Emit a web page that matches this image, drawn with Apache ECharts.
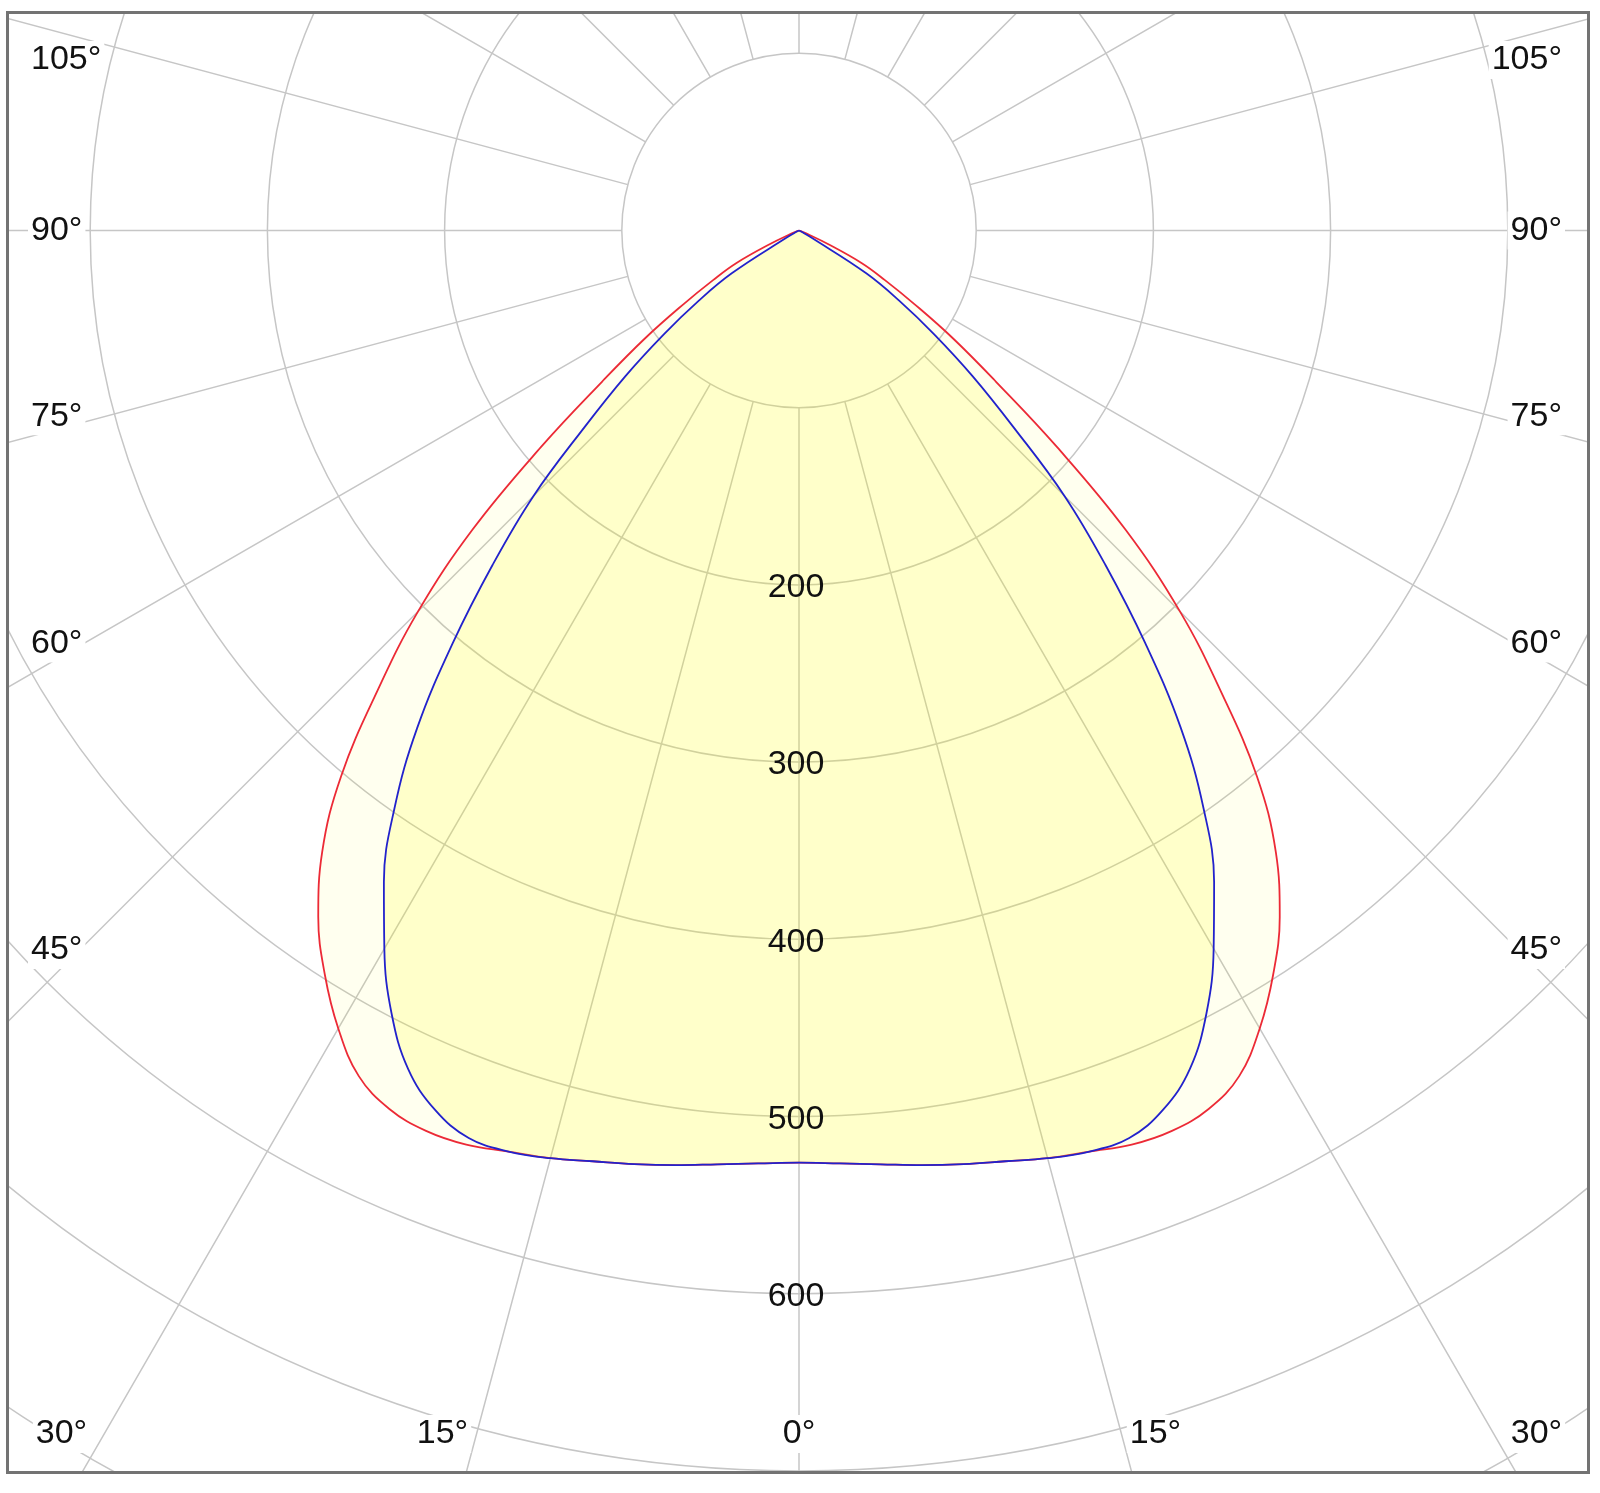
<!DOCTYPE html>
<html>
<head>
<meta charset="utf-8">
<script src="https://cdn.jsdelivr.net/npm/echarts@6/dist/echarts.min.js"></script>
<style>
html,body{margin:0;padding:0;background:#fff;width:1600px;height:1493px;overflow:hidden}
#chart{position:absolute;left:6px;top:11px;width:1584px;height:1463px}
</style>
</head>
<body>
<div id="chart"></div>
<script>
// ---- data (angle in degrees from nadir, luminous intensity) ----
const angles = [
  -90,-87.5,-85,-82.5,-80,-77.5,-75,-72.5,-70,-67.5,-65,-62.5,-60,-57.5,-55,-52.5,-50,-47.5,
  -45,-42.5,-40,-37.5,-35,-32.5,-30,-27.5,-25,-22.5,-20,-17.5,-15,-12.5,-10,-7.5,-5,-2.5,
  0,
  2.5,5,7.5,10,12.5,15,17.5,20,22.5,25,27.5,30,32.5,35,37.5,40,42.5,45,
  47.5,50,52.5,55,57.5,60,62.5,65,67.5,70,72.5,75,77.5,80,82.5,85,87.5,90];
const redValues = [
  0,0,0,0,0,0,0,0,1,5,18,40,56,77,106,140,190,250,
  304,352,402,442,473,498,520,538,547,550,549,545,542,538,535,532,529,527,
  526,
  527,529,532,535,538,542,545,549,550,547,538,520,498,473,442,402,352,304,
  250,190,140,106,77,56,40,18,5,1,0,0,0,0,0,0,0,0];
const blueValues = [
  0,0,0,0,0,0,0,0,0,0,0,1,8,45,69,96,128,164,
  212,256,304,354,398,436,468,498,522,537,545,545,542,538,535,532,529,527,
  526,
  527,529,532,535,538,542,545,545,537,522,498,468,436,398,354,304,256,212,
  164,128,96,69,45,8,1,0,0,0,0,0,0,0,0,0,0,0];
const radiusLabels = [200,300,400,500,600];
const angleLabelValues = [105,90,75,60,45,30,15,0];

// ---- layout ----
const CX = 793, CY = 219.5, K = 1.772, RMAX = 850;
const FONT = '"Liberation Sans", Arial, sans-serif';
const gridColor = '#c6c6c6';

const chart = echarts.init(document.getElementById('chart'));

function angleLabelGraphics() {
  const out = [];
  const leftCX = 48, rightCX = 1538, leftTX = 22, rightTX = 1559, bottomY = 1423, topY = 49;
  const sideShift = 1.0, bottomShift = 1.5;
  [-1, 1].forEach(function (s) {
    angleLabelValues.forEach(function (th) {
      if (s === 1 && th === 0) return;
      const t0 = th * Math.PI / 180;
      const sx = Math.abs(Math.sin(t0)) < 1e-9 ? Infinity : (s < 0 ? (CX - leftCX) : (rightCX - CX)) / Math.abs(Math.sin(t0));
      const sy = Math.cos(t0) > 1e-9 ? (bottomY - CY) / Math.cos(t0) : Infinity;
      const onBottom = sy < sx;
      const shift = (th % 90 === 0) ? 0 : (onBottom ? bottomShift : sideShift);
      const t = (th + shift) * Math.PI / 180;
      const dx = s * Math.sin(t), dy = Math.cos(t);
      let x, y, align;
      if (onBottom) {
        x = CX + dx * ((bottomY - CY) / dy); y = bottomY; align = 'center';
      } else {
        const tx = (s < 0 ? (CX - leftCX) : (rightCX - CX)) / Math.abs(dx);
        y = Math.max(topY, CY + dy * tx); x = s < 0 ? leftTX : rightTX; align = s < 0 ? 'left' : 'right';
      }
      out.push({
        type: 'text', z: 100, silent: true,
        style: {
          text: th + '°', x: x, y: y, align: align, verticalAlign: 'middle',
          font: '34px ' + FONT, fill: '#111111',
          backgroundColor: '#ffffff', padding: [2, 3]
        }
      });
    });
  });
  out.push({
    type: 'rect', z: 110, silent: true,
    shape: { x: 1.5, y: 1.5, width: 1581, height: 1460 },
    style: { fill: 'none', stroke: '#737373', lineWidth: 3 }
  });
  return out;
}

const option = {
  animation: false,
  backgroundColor: '#ffffff',
  polar: [
    { center: [CX, CY], radius: [100 * K, RMAX * K] },
    { center: [CX, CY], radius: [0, RMAX * K] }
  ],
  radiusAxis: [
    { polarIndex: 0, type: 'value', min: 100, max: RMAX, interval: 100,
      axisLine: { show: false }, axisTick: { show: false }, axisLabel: { show: false },
      splitLine: { show: true, lineStyle: { color: gridColor, width: 1.5 } } },
    { polarIndex: 1, type: 'value', min: 0, max: RMAX,
      axisLine: { show: false }, axisTick: { show: false }, axisLabel: { show: false },
      splitLine: { show: false } }
  ],
  angleAxis: [
    { polarIndex: 0, type: 'value', min: 0, max: 360, interval: 15, startAngle: 270, clockwise: true,
      axisLine: { show: false }, axisTick: { show: false }, axisLabel: { show: false },
      splitLine: { show: true, lineStyle: { color: gridColor, width: 1.5 } } },
    { polarIndex: 1, type: 'value', min: -180, max: 180, startAngle: 90, clockwise: true,
      axisLine: { show: false }, axisTick: { show: false }, axisLabel: { show: false },
      splitLine: { show: false } }
  ],
  series: [
    { name: 'C0-C180', type: 'line', coordinateSystem: 'polar', polarIndex: 1,
      data: angles.map(function (a, i) { return [redValues[i], a]; }),
      symbol: 'none', showSymbol: false, smooth: 0.4, z: 3, silent: true,
      lineStyle: { color: '#ec2a36', width: 1.8 },
      areaStyle: { color: 'rgba(255,255,0,0.09)' } },
    { name: 'C90-C270', type: 'line', coordinateSystem: 'polar', polarIndex: 1,
      data: angles.map(function (a, i) { return [blueValues[i], a]; }),
      symbol: 'none', showSymbol: false, smooth: 0.4, z: 4, silent: true,
      lineStyle: { color: '#2222cc', width: 1.8 },
      areaStyle: { color: 'rgba(255,253,0,0.22)' } },
    { name: 'labels', type: 'scatter', coordinateSystem: 'polar', polarIndex: 1,
      data: radiusLabels.map(function (v) { return [v, 0]; }),
      symbolSize: 0.1, itemStyle: { color: '#000000', opacity: 1 }, z: 10, silent: true,
      label: { show: true, position: 'inside', offset: [-3, 3], opacity: 1,
        textBorderWidth: 0, textShadowBlur: 0,
        formatter: function (p) { return String(p.value[0]); },
        fontSize: 34, fontFamily: FONT, color: '#111111' } }
  ],
  graphic: angleLabelGraphics()
};
chart.setOption(option);
</script>
</body>
</html>
